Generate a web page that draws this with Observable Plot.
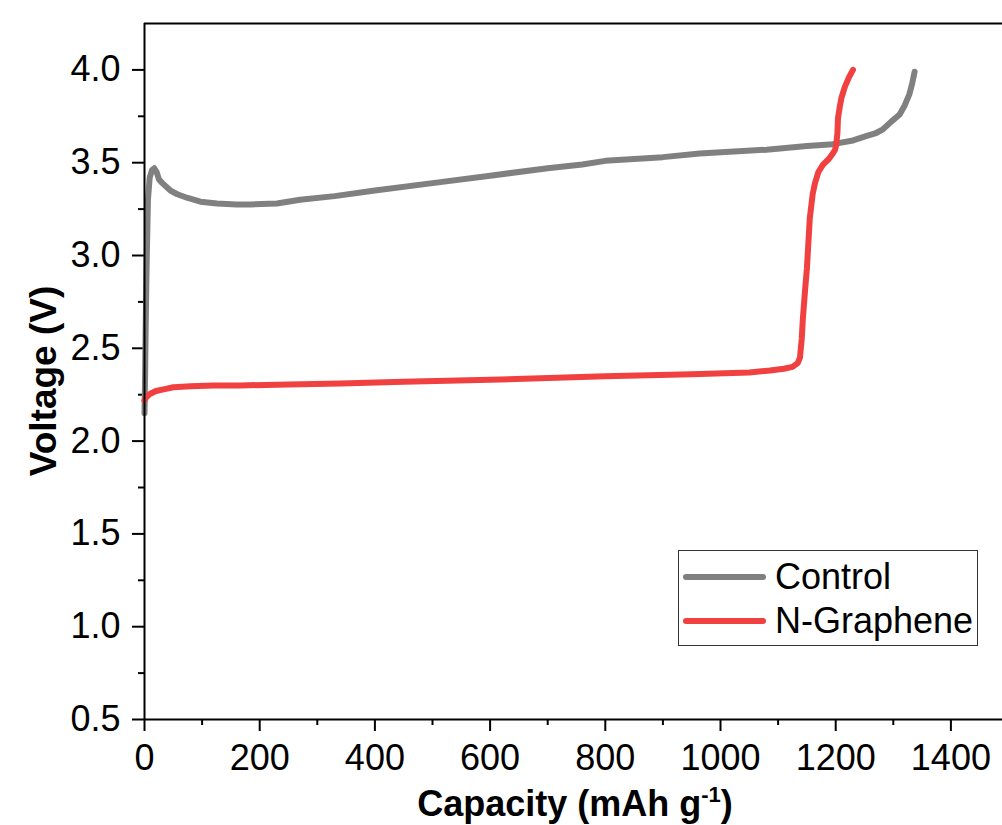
<!DOCTYPE html>
<html>
<head>
<meta charset="utf-8">
<script src="https://cdn.jsdelivr.net/npm/d3@7"></script>
<script src="https://cdn.jsdelivr.net/npm/@observablehq/plot@0.6"></script>
<style>
  html, body { margin: 0; padding: 0; background: #fff; overflow: hidden; }
  #wrap { position: relative; width: 1002px; height: 825px; font-family: "Liberation Sans", Arial, sans-serif; }
  #legend { position: absolute; left: 678px; top: 550px; width: 298px; height: 94px; border: 1.5px solid #333; background: #fff; }
  .item { position: absolute; left: 0; height: 44px; display: flex; align-items: center; }
  .swatch { position: absolute; left: 4px; width: 83px; height: 6px; border-radius: 3px; }
  .label { position: absolute; left: 96px; font-size: 36px; color: #000; white-space: nowrap; line-height: 1; }
</style>
</head>
<body>
<div id="wrap"></div>
<script>
// ---- data ----
const seriesNames = ["Control", "N-Graphene"];
const seriesColors = ["#808080", "#f04040"];

const controlCap = [0, 1, 2, 3, 4, 6, 9, 13, 17, 21, 25, 31, 45, 57, 75, 97, 126, 160, 184, 230, 270, 330, 400, 500, 600, 700, 760, 800, 900, 964, 1080, 1150, 1195, 1230, 1254, 1270, 1282, 1296, 1311, 1320, 1328, 1333, 1337];
const controlV   = [2.15, 2.35, 2.6, 2.82, 3.0, 3.3, 3.42, 3.46, 3.47, 3.45, 3.41, 3.39, 3.35, 3.33, 3.31, 3.29, 3.28, 3.275, 3.275, 3.28, 3.30, 3.32, 3.35, 3.39, 3.43, 3.47, 3.49, 3.51, 3.53, 3.55, 3.57, 3.59, 3.60, 3.62, 3.645, 3.66, 3.68, 3.72, 3.76, 3.81, 3.87, 3.93, 3.99];

const ngCap = [0, 3, 6, 10, 20, 35, 50, 80, 120, 166, 250, 340, 450, 600, 800, 950, 1050, 1086, 1110, 1125, 1134, 1138, 1141, 1143, 1147, 1150, 1155, 1160, 1164, 1170, 1178, 1188, 1195, 1199, 1201, 1203, 1204, 1207, 1210, 1216, 1223, 1230];
const ngV   = [2.22, 2.235, 2.245, 2.255, 2.27, 2.28, 2.29, 2.295, 2.30, 2.30, 2.305, 2.31, 2.32, 2.33, 2.35, 2.36, 2.37, 2.38, 2.39, 2.40, 2.42, 2.45, 2.55, 2.66, 2.82, 2.93, 3.20, 3.33, 3.39, 3.45, 3.49, 3.52, 3.55, 3.57, 3.60, 3.66, 3.74, 3.80, 3.85, 3.91, 3.96, 4.0];

const xMajorTicks = [0, 200, 400, 600, 800, 1000, 1200, 1400];
const xMinorTicks = [100, 300, 500, 700, 900, 1100, 1300];
const yMajorTicks = [0.5, 1.0, 1.5, 2.0, 2.5, 3.0, 3.5, 4.0];
const yMinorTicks = [0.75, 1.25, 1.75, 2.25, 2.75, 3.25, 3.75];
const xDomain = [0, 1500];
const yDomain = [0.5, 4.25];
const xTitle = ["Capacity (mAh g", "-1", ")"];
const yTitle = "Voltage (V)";

// ---- build table ----
const rows = [];
controlCap.forEach((c, i) => rows.push({series: seriesNames[0], cap: c, v: controlV[i]}));
ngCap.forEach((c, i) => rows.push({series: seriesNames[1], cap: c, v: ngV[i]}));

const font = '"Liberation Sans", Arial, sans-serif';

const chart = Plot.plot({
  width: 1002,
  height: 825,
  marginLeft: 144,
  marginRight: 0,
  marginTop: 23,
  marginBottom: 106,
  style: {fontFamily: font, fontSize: "36px", color: "#000", background: "#fff", overflow: "hidden"},
  x: {domain: xDomain, range: [144, 1008]},
  y: {domain: yDomain},
  color: {domain: seriesNames, range: seriesColors},
  marks: [
    Plot.axisX({ticks: xMajorTicks, tickSize: 12, tickPadding: 13, tickFormat: d => String(d), strokeWidth: 2, fontSize: 36, label: null}),
    Plot.axisX({ticks: xMinorTicks, tickSize: 6, text: null, strokeWidth: 2, label: null}),
    Plot.axisY({ticks: yMajorTicks, tickSize: 12, tickPadding: 12, tickFormat: d3.format(".1f"), strokeWidth: 2, fontSize: 36, label: null}),
    Plot.axisY({ticks: yMinorTicks, tickSize: 6, text: null, strokeWidth: 2, label: null}),
    Plot.line(rows, {x: "cap", y: "v", z: "series", stroke: "series", strokeWidth: 6, strokeLinejoin: "round", strokeLinecap: "round"}),
    Plot.ruleY([yDomain[0]], {stroke: "#000", strokeWidth: 2}),
    Plot.ruleY([yDomain[1]], {stroke: "#000", strokeWidth: 2}),
    Plot.ruleX([xDomain[0]], {stroke: "#000", strokeWidth: 2})
  ]
});

const svg = d3.select(chart);
// x-axis title with superscript
const xt = svg.append("text")
  .attr("x", 575).attr("y", 816)
  .attr("text-anchor", "middle")
  .attr("font-family", font).attr("font-size", 36).attr("font-weight", "bold").attr("fill", "#000");
xt.append("tspan").text(xTitle[0]);
xt.append("tspan").attr("font-size", 22).attr("dy", -14).text(xTitle[1]);
xt.append("tspan").attr("dy", 14).text(xTitle[2]);
// y-axis title
svg.append("text")
  .attr("transform", "translate(56,381) rotate(-90)")
  .attr("text-anchor", "middle")
  .attr("font-family", font).attr("font-size", 37).attr("font-weight", "bold").attr("fill", "#000")
  .text(yTitle);

const wrap = document.getElementById("wrap");
wrap.appendChild(chart);

// legend
const legend = document.createElement("div");
legend.id = "legend";
seriesNames.forEach((name, i) => {
  const item = document.createElement("div");
  item.className = "item";
  item.style.top = (i === 0 ? 4 : 48) + "px";
  const sw = document.createElement("div");
  sw.className = "swatch";
  sw.style.background = seriesColors[i];
  const lb = document.createElement("span");
  lb.className = "label";
  lb.textContent = name;
  item.appendChild(sw);
  item.appendChild(lb);
  legend.appendChild(item);
});
wrap.appendChild(legend);
</script>
</body>
</html>
